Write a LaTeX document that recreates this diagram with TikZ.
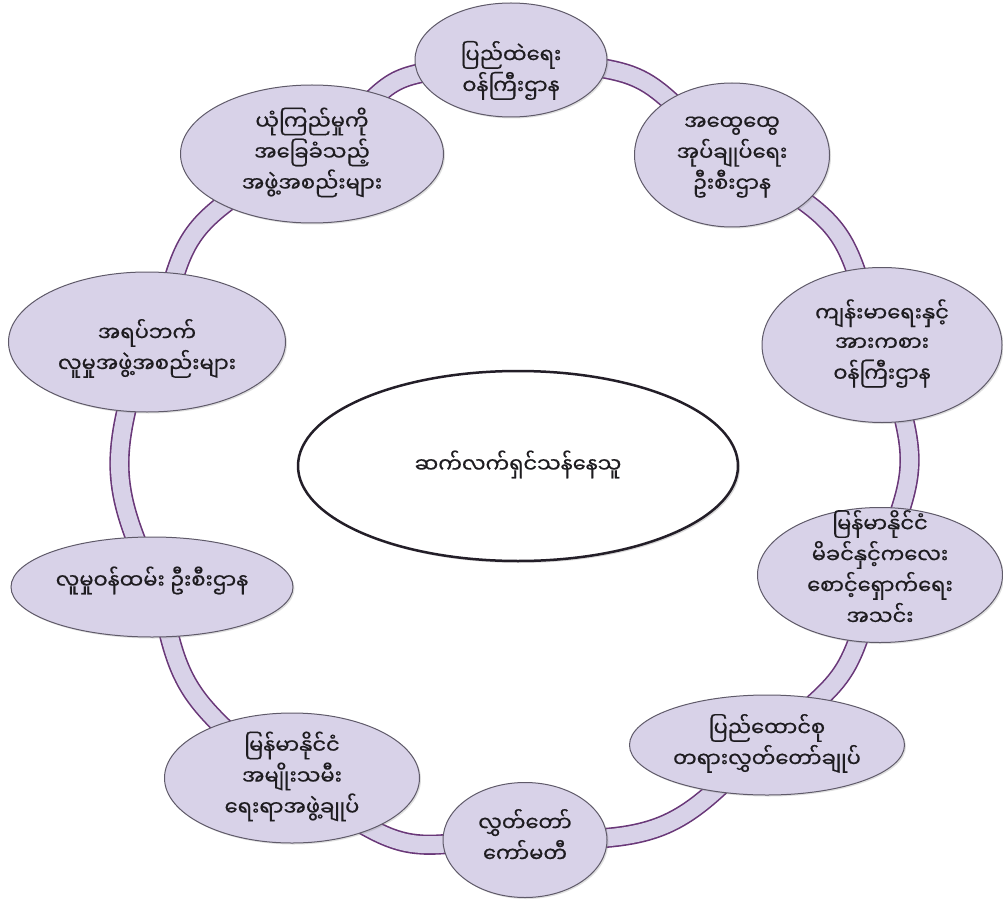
\documentclass[tikz,border=0pt]{standalone}
\usepackage{fontspec}
\newfontfamily\mm[Script=Myanmar,FakeBold=0.6]{Noto Sans Myanmar UI}
\usetikzlibrary{shapes.geometric,shadows,backgrounds}
\definecolor{nodefill}{RGB}{216,210,232}
\definecolor{nodeline}{RGB}{95,90,105}
\definecolor{bandline}{RGB}{105,55,120}
\definecolor{bandfill}{RGB}{216,210,232}
\definecolor{coreline}{RGB}{35,30,40}
\definecolor{txt}{RGB}{30,28,32}
\newcommand{\tx}[2][0pt]{\raisebox{#1}[\height][\depth]{\begin{tabular}{@{}c@{}}#2\end{tabular}}}
\begin{document}
\begin{tikzpicture}[x=1pt,y=-1pt,
  font=\mm\fontsize{21}{29.5}\selectfont, text=txt,
  org/.style={ellipse, draw=nodeline, line width=1pt, fill=nodefill, inner sep=-50pt,
    drop shadow={shadow xshift=1.5pt, shadow yshift=-1.5pt, opacity=0.25}},
  core/.style={ellipse, draw=coreline, line width=2.5pt, fill=white, inner sep=-50pt,
    drop shadow={shadow xshift=2pt, shadow yshift=-2pt, opacity=0.3}},
  band/.style={draw=bandline, line width=1.6pt, double=bandfill, double distance=17pt,
    shorten <=-12pt, shorten >=-12pt}]
\useasboundingbox (0,0) rectangle (1003,901);
\node[org, minimum width=192pt, minimum height=114pt] (n1) at (511,60) {\tx[-12pt]{ပြည်ထဲရေး\\ဝန်ကြီးဌာန}};
\node[org, minimum width=195pt, minimum height=144pt] (n2) at (732,155) {\tx{အထွေထွေ\\အုပ်ချုပ်ရေး\\ဦးစီးဌာန}};
\node[org, minimum width=240pt, minimum height=155pt] (n3) at (882,345) {\tx{ကျန်းမာရေးနှင့်\\အားကစား\\ဝန်ကြီးဌာန}};
\node[org, minimum width=245pt, minimum height=135pt] (n4) at (880,575) {\tx[3pt]{မြန်မာနိုင်ငံ\\မိခင်နှင့်ကလေး\\စောင့်ရှောက်ရေး\\အသင်း}};
\node[org, minimum width=275pt, minimum height=100pt] (n5) at (767,745) {\tx{ပြည်ထောင်စု\\တရားလွှတ်တော်ချုပ်}};
\node[org, minimum width=164pt, minimum height=115pt] (n6) at (525,840) {\tx{လွှတ်တော်\\ကော်မတီ}};
\node[org, minimum width=255pt, minimum height=130pt] (n7) at (292,778) {\tx{မြန်မာနိုင်ငံ\\အမျိုးသမီး\\ရေးရာအဖွဲ့ချုပ်}};
\node[org, minimum width=282pt, minimum height=100pt] (n8) at (152,587) {\tx[5pt]{လူမှုဝန်ထမ်း ဦးစီးဌာန}};
\node[org, minimum width=277pt, minimum height=140pt] (n9) at (147,342) {\tx[-8pt]{အရပ်ဘက်\\လူမှုအဖွဲ့အစည်းများ}};
\node[org, minimum width=263pt, minimum height=138pt] (n10) at (312,154) {\tx{ယုံကြည်မှုကို\\အခြေခံသည့်\\အဖွဲ့အစည်းများ}};
\node[core, minimum width=440pt, minimum height=190pt] (c) at (518,466) {\tx{ဆက်လက်ရှင်သန်နေသူ}};
\begin{scope}[on background layer]
\fill[white] (0,0) rectangle (1003,901);
\draw[band] (n1) to[bend left=18] (n2);
\draw[band] (n2) to[bend left=19] (n3);
\draw[band] (n3) to[bend left=17] (n4);
\draw[band] (n4) to[bend left=15] (n5);
\draw[band] (n5) to[bend left=20] (n6);
\draw[band] (n6) to[bend left=18] (n7);
\draw[band] (n7) to[bend left=17] (n8);
\draw[band] (n8) to[bend left=18] (n9);
\draw[band] (n9) to[bend left=19] (n10);
\draw[band] (n10) to[bend left=17] (n1);
\end{scope}
\end{tikzpicture}
\end{document}
